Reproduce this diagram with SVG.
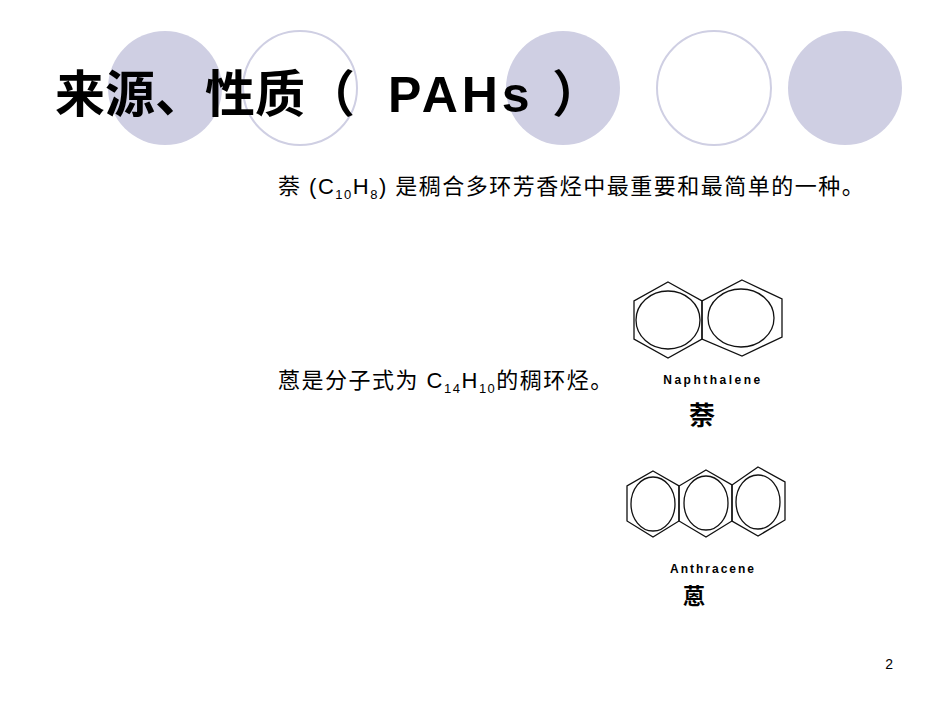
<svg xmlns="http://www.w3.org/2000/svg" width="950" height="713" viewBox="0 0 950 713">
<style>
.f{fill:#cfcfe3}
.o{fill:none;stroke:#cfcfe3;stroke-width:2}
.t{font-family:"Liberation Sans","Noto Sans CJK SC",sans-serif;fill:#000}
.b{font-size:22px;letter-spacing:1.5px}
.m{fill:none;stroke:#111;stroke-width:1.3}
</style>
<rect width="950" height="713" fill="#fff"/>
<g id="bg">
<circle class="f" cx="165" cy="88" r="57"/>
<circle class="o" cx="300" cy="88" r="57"/>
<circle class="f" cx="563" cy="88" r="57"/>
<circle class="o" cx="714" cy="88" r="57"/>
<circle class="f" cx="845" cy="88" r="57"/>
</g>
<g id="title" class="t" font-size="50" font-weight="bold">
<text class="t" x="55" y="112">来源、性质（</text>
<text class="t" x="388" y="112" letter-spacing="4">PAHs</text>
<text class="t" x="552" y="112">）</text>
</g>
<g id="line1"><text class="t b" x="278" y="194">萘 (C<tspan font-size="13" dy="5">10</tspan><tspan dy="-5">H</tspan><tspan font-size="13" dy="5">8</tspan><tspan dy="-5">) 是稠合多环芳香烃中最重要和最简单的一种。</tspan></text></g>
<g id="line2"><text class="t b" x="278" y="388">蒽是分子式为 C<tspan font-size="13" dy="5">14</tspan><tspan dy="-5">H</tspan><tspan font-size="13" dy="5">10</tspan><tspan dy="-5">的稠环烃。</tspan></text></g>
<g id="naphthalene">
<polygon class="m" points="668,282 702,301 702,339 668,358 634,339 634,301"/>
<polygon class="m" points="742,280 782,299 782,337 742,356 702,339 702,301"/>
<ellipse class="m" cx="668" cy="320" rx="32" ry="29"/>
<ellipse class="m" cx="741" cy="318" rx="33" ry="29"/>
<text class="t" x="713" y="384" font-size="12" font-weight="bold" letter-spacing="2.5" text-anchor="middle">Naphthalene</text>
<text class="t" x="702" y="425" font-size="26" font-weight="bold" text-anchor="middle">萘</text>
</g>
<g id="anthracene">
<polygon class="m" points="653,471 679,486 679,521 653,537 627,521 627,486"/>
<polygon class="m" points="706,470 732,485 732,521 706,537 679,521 679,486"/>
<polygon class="m" points="758,467 785,482 785,520 758,536 732,521 732,485"/>
<ellipse class="m" cx="653" cy="504" rx="22" ry="27"/>
<ellipse class="m" cx="706" cy="503" rx="22" ry="27"/>
<ellipse class="m" cx="758" cy="502" rx="22" ry="27"/>
<text class="t" x="713" y="573" font-size="12" font-weight="bold" letter-spacing="2" text-anchor="middle">Anthracene</text>
<text class="t" x="694" y="604" font-size="22" font-weight="bold" text-anchor="middle">蒽</text>
</g>
<g id="page"><text class="t" x="893" y="669" font-size="14" text-anchor="end">2</text></g>
</svg>
